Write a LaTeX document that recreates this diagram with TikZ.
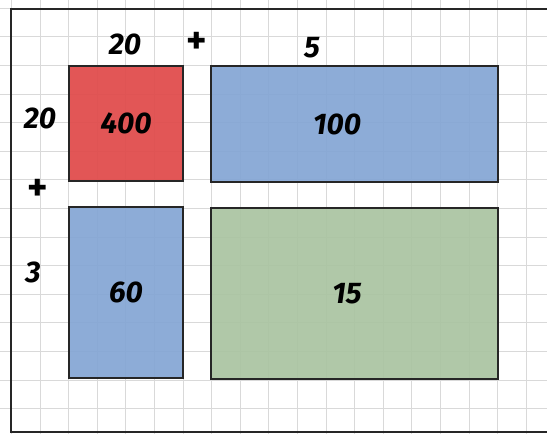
\documentclass[tikz,border=0pt]{standalone}
\usepackage{fontspec}
\setmainfont{Fira Sans}
\usetikzlibrary{positioning}

\definecolor{redpart}{HTML}{E04A4A}
\definecolor{bluepart}{HTML}{85A6D4}
\definecolor{greenpart}{HTML}{AAC4A2}

\begin{document}
\begin{tikzpicture}[x=0.02cm, y=-0.02cm, font=\fontsize{17}{18}\selectfont\bfseries\itshape,
  part/.style={draw=black!85, line width=1.4pt, fill=#1, fill opacity=0.93, text opacity=1,
               inner sep=0pt},
  gridline/.style={draw=black!15, line width=0.5pt},
  factor/.style={inner sep=1pt}]
  \useasboundingbox (0,0) rectangle (547,434);
  \fill[white] (0,0) rectangle (547,434);
  % squared paper
  \foreach \i in {0,...,19}
    \draw[gridline] ({11.4+28.6*\i},0) -- ({11.4+28.6*\i},434);
  \foreach \j in {0,...,15}
    \draw[gridline] (0,{8.2+28.6*\j}) -- (547,{8.2+28.6*\j});
  % frame
  \draw[black!85, line width=1.4pt] (560,9) -- (11,9) -- (11,432) -- (560,432);
  % the four parts
  \node[part=redpart, minimum width=2.28cm, minimum height=2.30cm] (tens) at (126,123.5) {400};
  \node[part=bluepart, minimum width=5.74cm, minimum height=2.32cm] (ones) at (354.5,124) {\hspace*{-0.7cm}100};
  \node[part=bluepart, minimum width=2.28cm, minimum height=3.42cm] (three) at (126,292.5) {60};
  \node[part=greenpart, minimum width=5.74cm, minimum height=3.42cm] (rest) at (354.5,293.5) {\hspace*{-0.3cm}15};
  % factors
  \node[factor] (top20) at (125,44) {20};
  \node[factor, font=\fontsize{22}{22}\selectfont\bfseries] (topplus) at (197,43) {+};
  \node[factor] (top5) at (312,48) {5};
  \node[factor] (left20) at (40,118) {20};
  \node[factor, font=\fontsize{22}{22}\selectfont\bfseries] (leftplus) at (38,190) {+};
  \node[factor] (left3) at (33,272) {3};
\end{tikzpicture}
\end{document}
